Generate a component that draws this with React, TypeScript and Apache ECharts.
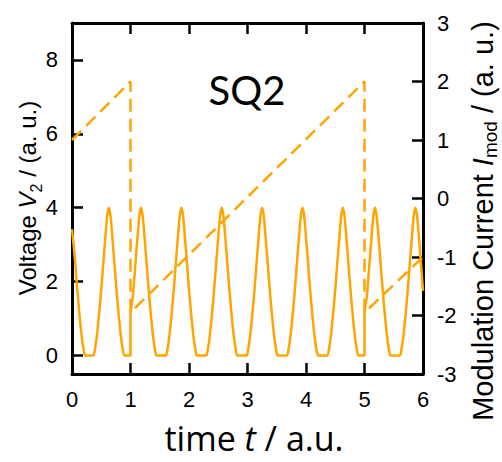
import React, { useEffect, useRef } from 'react';
import * as echarts from 'echarts';

// ---- data ----
const timeTicks = [0, 1, 2, 3, 4, 5, 6];
const voltageTicks = [0, 2, 4, 6, 8];
const currentTicks = [-3, -2, -1, 0, 1, 2, 3];

// modulation current I_mod (right axis), sawtooth
const currentSamples: [number, number][] = [
  [0, 1.0], [1, 2.0], [1, -1.95], [5, 2.0], [5, -1.95], [6, -1.0],
];

// voltage V2 (left axis)
const voltageSamples: [number, number][] = [
  [0, 3.42], [0.05, 2.6], [0.1, 1.6], [0.16, 0.6], [0.2, 0.15], [0.23, 0],
  [0.36, 0], [0.39, 0.15], [0.43, 0.6], [0.49, 1.6], [0.54, 2.6], [0.58, 3.4], [0.605, 3.82], [0.63, 4],
  [0.655, 3.82], [0.68, 3.4], [0.72, 2.6], [0.77, 1.6], [0.83, 0.6], [0.87, 0.15], [0.9, 0],
  [1.0, 0], [1.0, 1.1], [1.04, 1.6], [1.09, 2.6], [1.13, 3.4], [1.155, 3.82], [1.18, 4],
  [1.205, 3.82], [1.23, 3.4], [1.27, 2.6], [1.32, 1.6], [1.38, 0.6], [1.42, 0.15], [1.45, 0],
  [1.6, 0], [1.63, 0.15], [1.67, 0.6], [1.73, 1.6], [1.78, 2.6], [1.82, 3.4], [1.845, 3.82], [1.87, 4],
  [1.895, 3.82], [1.92, 3.4], [1.96, 2.6], [2.01, 1.6], [2.07, 0.6], [2.11, 0.15], [2.14, 0],
  [2.29, 0], [2.32, 0.15], [2.36, 0.6], [2.42, 1.6], [2.47, 2.6], [2.51, 3.4], [2.535, 3.82], [2.56, 4],
  [2.585, 3.82], [2.61, 3.4], [2.65, 2.6], [2.7, 1.6], [2.76, 0.6], [2.8, 0.15], [2.83, 0],
  [2.98, 0], [3.01, 0.15], [3.05, 0.6], [3.11, 1.6], [3.16, 2.6], [3.2, 3.4], [3.225, 3.82], [3.25, 4],
  [3.275, 3.82], [3.3, 3.4], [3.34, 2.6], [3.39, 1.6], [3.45, 0.6], [3.49, 0.15], [3.52, 0],
  [3.67, 0], [3.7, 0.15], [3.74, 0.6], [3.8, 1.6], [3.85, 2.6], [3.89, 3.4], [3.915, 3.82], [3.94, 4],
  [3.965, 3.82], [3.99, 3.4], [4.03, 2.6], [4.08, 1.6], [4.14, 0.6], [4.18, 0.15], [4.21, 0],
  [4.36, 0], [4.39, 0.15], [4.43, 0.6], [4.49, 1.6], [4.54, 2.6], [4.58, 3.4], [4.605, 3.82], [4.63, 4],
  [4.655, 3.82], [4.68, 3.4], [4.72, 2.6], [4.77, 1.6], [4.83, 0.6], [4.87, 0.15], [4.9, 0],
  [5.0, 0], [5.0, 1.1], [5.04, 1.6], [5.09, 2.6], [5.13, 3.4], [5.155, 3.82], [5.18, 4],
  [5.205, 3.82], [5.23, 3.4], [5.27, 2.6], [5.32, 1.6], [5.38, 0.6], [5.42, 0.15], [5.45, 0],
  [5.6, 0], [5.63, 0.15], [5.67, 0.6], [5.73, 1.6], [5.78, 2.6], [5.82, 3.4], [5.845, 3.82], [5.87, 4],
  [5.895, 3.82], [5.92, 3.4], [5.96, 2.6], [6.0, 1.75],
];

const ORANGE = '#FFA500';
const AXIS_FONT = '"Liberation Sans", Arial, sans-serif';
const TITLE_FONT = 'Lato, "Open Sans", sans-serif';
const XNAME_FONT = '"Open Sans", Lato, sans-serif';

export default function App() {
  const ref = useRef<HTMLDivElement>(null);
  useEffect(() => {
    if (!ref.current) return;
    const chart = echarts.init(ref.current, undefined, { renderer: 'svg' });
    const axisLine = { show: true, onZero: false, lineStyle: { color: '#000', width: 3 } };
    const axisTick = { show: true, inside: true, length: 11, lineStyle: { color: '#000', width: 2.5 } };
    const axisLabel = { show: true, margin: 14, color: '#000', fontSize: 22, fontFamily: AXIS_FONT };
    const labelRich = {
      a: { fontFamily: AXIS_FONT, fontSize: 24, lineHeight: 34, fill: '#000' },
      i: { fontFamily: AXIS_FONT, fontSize: 24, lineHeight: 34, fontStyle: 'italic', fill: '#000' },
      s: { fontFamily: AXIS_FONT, fontSize: 16, lineHeight: 34, verticalAlign: 'bottom', fill: '#000' },
    };
    const option: any = {
      animation: false,
      backgroundColor: '#fff',
      grid: { left: 72, right: 79, top: 23, bottom: 88 },
      xAxis: [
        {
          type: 'value', min: timeTicks[0], max: timeTicks[timeTicks.length - 1], interval: 1,
          position: 'bottom', axisLine, axisTick, axisLabel, splitLine: { show: false },
        },
        {
          type: 'value', min: timeTicks[0], max: timeTicks[timeTicks.length - 1], interval: 1,
          position: 'top', axisLine, axisTick, axisLabel: { show: false }, splitLine: { show: false },
        },
      ],
      yAxis: [
        {
          type: 'value', min: -0.5, max: 9, position: 'left',
          axisLine, axisTick: { ...axisTick, customValues: voltageTicks },
          axisLabel: { ...axisLabel, customValues: voltageTicks }, splitLine: { show: false },
        },
        {
          type: 'value', min: currentTicks[0], max: currentTicks[currentTicks.length - 1], interval: 1,
          position: 'right', axisLine, axisTick, axisLabel, splitLine: { show: false },
        },
      ],
      series: [
        {
          type: 'line', xAxisIndex: 0, yAxisIndex: 0, data: voltageSamples,
          showSymbol: false, smooth: 0.3, lineStyle: { color: ORANGE, width: 2.5 }, z: 3,
        },
        {
          type: 'line', xAxisIndex: 0, yAxisIndex: 1, data: currentSamples,
          showSymbol: false, lineStyle: { color: ORANGE, width: 2.5, type: [13, 7] }, z: 2,
        },
      ],
      graphic: [
        {
          type: 'text', x: 247, y: 90,
          style: { text: 'SQ2', font: `40px ${TITLE_FONT}`, fill: '#000', align: 'center', verticalAlign: 'middle' },
        },
        {
          type: 'text', x: 254, y: 438,
          style: {
            text: '{a|time }{i|t}{a| / a.u.}',
            align: 'center', verticalAlign: 'middle', fill: '#000',
            rich: {
              a: { fontFamily: XNAME_FONT, fontSize: 34, lineHeight: 34, fill: '#000' },
              i: { fontFamily: XNAME_FONT, fontSize: 34, lineHeight: 34, fontStyle: 'italic', fill: '#000' },
            },
          },
        },
        {
          type: 'text', x: 27, y: 198, rotation: Math.PI / 2,
          style: {
            text: '{a|Voltage }{i|V}{s|2}{a| / (a. u.)}',
            align: 'center', verticalAlign: 'middle', fill: '#000', rich: labelRich,
          },
        },
        {
          type: 'text', x: 483, y: 221, rotation: Math.PI / 2,
          style: {
            text: '{a|Modulation Current }{i|I}{s|mod}{a| / (a. u.)}',
            align: 'center', verticalAlign: 'middle', fill: '#000',
            rich: {
              a: { ...labelRich.a, fontSize: 29 },
              i: { ...labelRich.i, fontSize: 29 },
              s: { ...labelRich.s, fontSize: 19 },
            },
          },
        },
      ],
    };
    chart.setOption(option);
    return () => chart.dispose();
  }, []);
  return (
    <div
      ref={ref}
      style={{ position: 'fixed', left: 0, top: 0, width: 502, height: 462, background: '#fff' }}
    />
  );
}
